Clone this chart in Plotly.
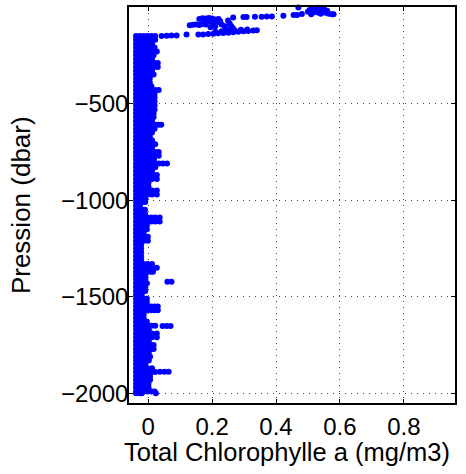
import plotly.graph_objects as go

# Near-surface samples (0 to ~150 dbar), read dot by dot
surf_chl = [
    0.470, 0.500, 0.505, 0.515, 0.520, 0.525, 0.530, 0.535, 0.540, 0.545,
    0.550, 0.555, 0.560, 0.565, 0.575, 0.580, 0.510, 0.545, 0.530, 0.515,
    0.481, 0.466, 0.455, 0.423, 0.387, 0.371, 0.355, 0.334, 0.308, 0.298, 0.266,
    0.160, 0.170, 0.180, 0.190, 0.200, 0.210, 0.220, 0.205, 0.175,
    0.190, 0.200, 0.210, 0.220, 0.230, 0.210, 0.240, 0.250, 0.255, 0.260, 0.265, 0.245,
    0.130, 0.140, 0.150, 0.160, 0.170, 0.180, 0.195, 0.225,
    0.157, 0.172, 0.188, 0.204, 0.219, 0.235, 0.251, 0.266, 0.282, 0.298, 0.313, 0.329, 0.340,
    0.210, 0.230, 0.250, 0.270, 0.290, 0.310,
    0.042, 0.058, 0.073, 0.089, 0.120,
]
surf_pres = [
    -2, -25, -15, -30, -18, -8, -28, -15, -35, -22,
    -10, -30, -20, -35, -37, -38, -38, -5, -4, -6,
    -36, -41, -41, -45, -49, -49, -50, -50, -52, -52, -55,
    -62, -58, -60, -57, -60, -65, -62, -70, -68,
    -75, -80, -85, -78, -90, -100, -100, -70, -85, -100, -110, -118,
    -95, -92, -90, -93, -88, -90, -105, -72,
    -143, -142, -140, -138, -136, -134, -133, -131, -128, -126, -124, -122, -120,
    -128, -125, -122, -120, -118, -117,
    -150, -149, -148, -147, -143,
]

# Deep column: pressure levels and the samples seen across each level
col_pres = [
    -150, -170, -190, -210, -230, -250, -270, -290, -310, -330,
    -350, -370, -390, -410, -430, -450, -470, -490, -510, -530,
    -550, -570, -590, -610, -630, -650, -670, -690, -710, -730,
    -750, -770, -790, -810, -830, -850, -870, -890, -910, -930,
    -950, -970, -990, -1010, -1030, -1050, -1070, -1090, -1110, -1130,
    -1150, -1170, -1190, -1210, -1230, -1250, -1270, -1290, -1310, -1330,
    -1350, -1370, -1390, -1410, -1430, -1450, -1470, -1490, -1510, -1530,
    -1550, -1570, -1590, -1610, -1630, -1650, -1670, -1690, -1710, -1730,
    -1750, -1770, -1790, -1810, -1830, -1850, -1870, -1890, -1910, -1930,
    -1950, -1970, -1990, -2000,
]
col_chl = [
    [-0.038, -0.026, -0.014, -0.002, 0.010, 0.022],
    [-0.038, -0.026, -0.014, -0.002, 0.010, 0.022],
    [-0.038, -0.026, -0.014, -0.002, 0.012],
    [-0.038, -0.026, -0.014, -0.002, 0.010, 0.020],
    [-0.038, -0.026, -0.014, -0.002, 0.012, 0.027],
    [-0.038, -0.026, -0.014, -0.002, 0.008, 0.017],
    [-0.038, -0.026, -0.014, -0.002, 0.012],
    [-0.038, -0.026, -0.014, -0.002, 0.010, 0.020, 0.030],
    [-0.038, -0.026, -0.014, -0.002, 0.010, 0.020, 0.030],
    [-0.038, -0.026, -0.014, -0.002, 0.012],
    [-0.038, -0.026, -0.014, -0.002, 0.008, 0.017],
    [-0.038, -0.026, -0.014, -0.002, 0.005],
    [-0.038, -0.026, -0.014, -0.002, 0.005],
    [-0.038, -0.026, -0.014, -0.002, 0.010],
    [-0.038, -0.026, -0.014, -0.002, 0.010, 0.022, 0.033],
    [-0.038, -0.026, -0.014, -0.002, 0.010, 0.020],
    [-0.038, -0.026, -0.014, -0.002, 0.010, 0.020],
    [-0.038, -0.026, -0.014, -0.002, 0.010, 0.020],
    [-0.038, -0.026, -0.014, -0.002, 0.010, 0.020],
    [-0.038, -0.026, -0.014, -0.002, 0.010, 0.020],
    [-0.038, -0.026, -0.014, -0.002, 0.008, 0.017],
    [-0.038, -0.026, -0.014, -0.002, 0.008, 0.017],
    [-0.038, -0.026, -0.014, -0.002, 0.012],
    [-0.038, -0.026, -0.014, -0.002, 0.010, 0.022, 0.032, 0.041],
    [-0.038, -0.026, -0.014, -0.002, 0.010, 0.020],
    [-0.038, -0.026, -0.014, -0.002, 0.012],
    [-0.038, -0.026, -0.014, -0.002, 0.005],
    [-0.038, -0.026, -0.014, -0.002, 0.012],
    [-0.038, -0.026, -0.014, -0.002, 0.010, 0.022],
    [-0.038, -0.026, -0.014, -0.002, 0.012],
    [-0.038, -0.026, -0.014, -0.002, 0.010, 0.022, 0.033],
    [-0.038, -0.026, -0.014, -0.002, 0.010, 0.022, 0.033],
    [-0.038, -0.026, -0.014, -0.002, 0.008, 0.018],
    [-0.038, -0.026, -0.014, -0.002, 0.010, 0.022, 0.034, 0.046, 0.059],
    [-0.038, -0.026, -0.014, -0.002, 0.010, 0.022],
    [-0.038, -0.026, -0.014, -0.002, 0.012],
    [-0.038, -0.026, -0.014, -0.002, 0.012, 0.027],
    [-0.038, -0.026, -0.014, -0.002, 0.012, 0.027],
    [-0.038, -0.026, -0.014, 0.001],
    [-0.038, -0.026, -0.014, 0.001],
    [-0.038, -0.026, -0.014, -0.002, 0.012, 0.027],
    [-0.038, -0.026, -0.014, -0.002, 0.012, 0.027],
    [-0.038, -0.026, -0.016, -0.009],
    [-0.038, -0.026, -0.016, -0.009],
    [-0.038, -0.026],
    [-0.038, -0.026, -0.016, -0.010],
    [-0.038, -0.026, -0.016, -0.010],
    [-0.038, -0.026, -0.014, -0.002, 0.010, 0.022, 0.036],
    [-0.038, -0.026, -0.014, -0.002, 0.010, 0.022, 0.036],
    [-0.038, -0.026, -0.014, -0.004],
    [-0.038, -0.026, -0.014, -0.004],
    [-0.038, -0.026, -0.014],
    [-0.038, -0.026, -0.014, -0.001],
    [-0.038, -0.026, -0.014, -0.001],
    [-0.038, -0.030, -0.022],
    [-0.038, -0.030, -0.022],
    [-0.038, -0.030, -0.022],
    [-0.038, -0.030, -0.022],
    [-0.038, -0.030, -0.022],
    [-0.038, -0.026, -0.014, -0.002, 0.012],
    [-0.038, -0.026, -0.014, -0.002, 0.012, 0.027],
    [-0.038, -0.026, -0.014, -0.002, 0.008, 0.015],
    [-0.038, -0.026, -0.016, -0.009],
    [-0.038, -0.026, -0.016, -0.009],
    [-0.038, -0.026, -0.014, -0.004],
    [-0.038, -0.026, -0.016, -0.009],
    [-0.038, -0.026, -0.016, -0.009],
    [-0.038, -0.029, -0.020],
    [-0.038, -0.026, -0.014, -0.004],
    [-0.038, -0.026, -0.014, -0.004],
    [-0.038, -0.026, -0.014, -0.002, 0.010, 0.020, 0.030],
    [-0.038, -0.026, -0.014, -0.002, 0.010, 0.020, 0.030],
    [-0.038, -0.026, -0.014],
    [-0.038, -0.026, -0.014],
    [-0.038, -0.026, -0.014, -0.004],
    [-0.038, -0.026, -0.014, -0.002, 0.010, 0.022],
    [-0.038, -0.026, -0.014, 0.002],
    [-0.038, -0.026, -0.014, -0.002, 0.012, 0.027],
    [-0.038, -0.026, -0.014, -0.002, 0.012, 0.027],
    [-0.038, -0.026, -0.014, 0.002],
    [-0.038, -0.026, -0.014, -0.002, 0.008, 0.017],
    [-0.038, -0.026, -0.014, -0.002, 0.008, 0.017],
    [-0.038, -0.026, -0.014, 0.002],
    [-0.038, -0.026, -0.014, -0.002, 0.006],
    [-0.038, -0.026, -0.014, 0.002],
    [-0.038, -0.026, -0.016, -0.009],
    [-0.038, -0.026, -0.014, -0.002, 0.012],
    [-0.038, -0.026, -0.014, -0.002, 0.010, 0.022],
    [-0.038, -0.026, -0.014, -0.002, 0.006],
    [-0.038, -0.026, -0.014, -0.002, 0.006],
    [-0.038, -0.026, -0.014, 0.001],
    [-0.038, -0.026, -0.014, 0.001],
    [-0.038, -0.026, -0.014, -0.002, 0.010, 0.020],
    [-0.038, -0.026, -0.020, 0.024],
]

# Isolated higher values at depth
spike_chl = [0.060, 0.073, 0.045, 0.058, 0.070, 0.037, 0.051, 0.064]
spike_pres = [-1422, -1422, -1652, -1652, -1652, -1888, -1888, -1888]

x_vals = list(surf_chl) + list(spike_chl)
y_vals = list(surf_pres) + list(spike_pres)
for p, row in zip(col_pres, col_chl):
    x_vals += row
    y_vals += [p] * len(row)

fig = go.Figure()
fig.add_trace(go.Scatter(
    x=x_vals, y=y_vals, mode="markers",
    marker=dict(color="#0000ff", size=6, line=dict(width=0)),
    cliponaxis=False, hoverinfo="x+y",
))

axis_style = dict(
    showline=True, linecolor="black", linewidth=1.5, mirror="ticks",
    ticks="inside", ticklen=4, tickcolor="black",
    showgrid=True, gridcolor="#444444", gridwidth=1, griddash="1px,5px",
    zeroline=False, automargin=False,
    tickfont=dict(size=24, color="black"),
)

fig.update_xaxes(
    range=[-0.06, 0.96], tickvals=[0, 0.2, 0.4, 0.6, 0.8],
    ticktext=["0", "0.2", "0.4", "0.6", "0.8"],
    ticklabelstandoff=1,
    **axis_style,
)
fig.update_yaxes(
    range=[-2050, 0], tickvals=[-500, -1000, -1500, -2000],
    ticklabelstandoff=-6,
    **axis_style,
)

# axis titles placed as annotations so the plot box stays fixed
fig.add_annotation(
    text="Total Chlorophylle a (mg/m3)", xref="paper", yref="paper",
    x=0.486, y=-0.124, xanchor="center", yanchor="middle",
    showarrow=False, font=dict(size=25.5, color="black"),
)
fig.add_annotation(
    text="Pression (dbar)", xref="paper", yref="paper",
    x=-0.331, y=0.5, xanchor="center", yanchor="middle", textangle=-90,
    showarrow=False, font=dict(size=26, color="black"),
)

fig.update_layout(
    width=466, height=474,
    margin=dict(l=129, r=11, t=7, b=71),
    paper_bgcolor="white", plot_bgcolor="white",
    font=dict(family="Liberation Sans, Arial, sans-serif", color="black"),
    showlegend=False,
)

# the page's default body margin would shift the figure by 8px
fig.write_html(
    "out.html",
    config={"displayModeBar": False},
    post_script="document.body.style.margin = '0';",
)
